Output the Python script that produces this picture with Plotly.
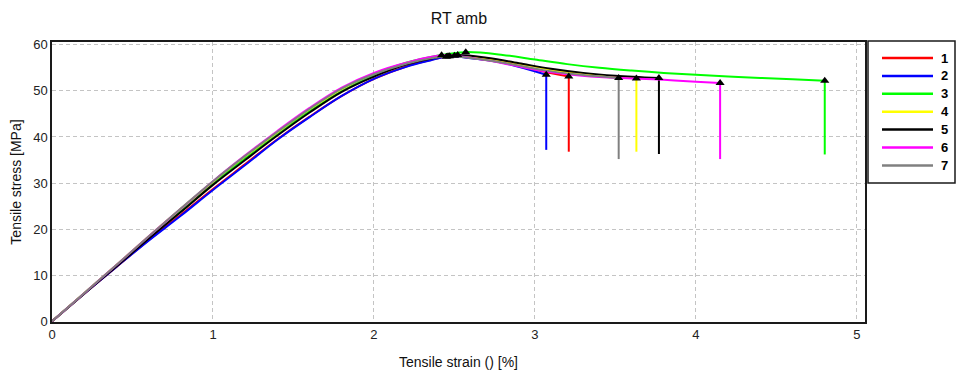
import plotly.graph_objects as go

# ---- data ----
specimens = ["1", "2", "3", "4", "5", "6", "7"]
colors = ["#ff0000", "#0000ff", "#00ff00", "#ffff00", "#000000", "#ff00ff", "#808080"]

strain_1 = [0, 0.2, 0.4, 0.6, 0.8, 1.0, 1.2, 1.4, 1.6, 1.8, 2.0, 2.2, 2.35, 2.47, 2.6, 2.8, 3.0, 3.21, 3.21]
stress_1 = [0, 6, 11.8, 17.6, 23.1, 28.7, 34.1, 39.5, 44.4, 48.9, 52.6, 55.3, 56.7, 57.5, 57.2, 56.2, 54.6, 53.1, 36.8]

strain_2 = [0, 0.2, 0.4, 0.6, 0.8, 1.0, 1.2, 1.4, 1.6, 1.8, 2.0, 2.2, 2.35, 2.45, 2.6, 2.8, 3.07, 3.07]
stress_2 = [0, 6, 11.8, 17.5, 22.9, 28.5, 33.9, 39.4, 44.3, 48.9, 52.6, 55.2, 56.6, 57.4, 57.1, 56.1, 53.5, 37.2]

strain_3 = [0, 0.2, 0.4, 0.6, 0.8, 1.0, 1.2, 1.4, 1.6, 1.8, 2.0, 2.2, 2.4, 2.57, 2.8, 3.0, 3.2, 3.4, 3.6, 3.8, 4.0, 4.2, 4.4, 4.6, 4.8, 4.8]
stress_3 = [0, 6.1, 12.1, 18.2, 24.1, 30.0, 35.4, 40.7, 45.6, 50.0, 53.5, 56.1, 57.7, 58.4, 57.8, 56.8, 55.8, 55.0, 54.4, 53.9, 53.5, 53.1, 52.8, 52.5, 52.2, 36.2]

strain_4 = [0, 0.2, 0.4, 0.6, 0.8, 1.0, 1.2, 1.4, 1.6, 1.8, 2.0, 2.2, 2.35, 2.5, 2.7, 2.9, 3.1, 3.3, 3.5, 3.63, 3.63]
stress_4 = [0, 6.1, 12.2, 18.4, 24.4, 30.3, 35.8, 41.0, 46.0, 50.4, 53.7, 56.0, 57.1, 57.6, 57.0, 55.9, 54.6, 53.6, 53.0, 52.7, 36.8]

strain_5 = [0, 0.2, 0.4, 0.6, 0.8, 1.0, 1.2, 1.4, 1.6, 1.8, 2.0, 2.2, 2.38, 2.52, 2.7, 2.9, 3.1, 3.3, 3.5, 3.77, 3.77]
stress_5 = [0, 6, 11.9, 17.9, 23.7, 29.6, 35.0, 40.3, 45.3, 49.8, 53.1, 55.7, 57.2, 57.8, 57.2, 56.0, 54.8, 53.9, 53.3, 52.8, 36.3]

strain_6 = [0, 0.2, 0.4, 0.6, 0.8, 1.0, 1.2, 1.4, 1.6, 1.8, 2.0, 2.2, 2.42, 2.6, 2.8, 3.0, 3.2, 3.4, 3.6, 3.8, 4.0, 4.15, 4.15]
stress_6 = [0, 6.1, 12.2, 18.4, 24.4, 30.4, 36.0, 41.3, 46.3, 50.7, 53.9, 56.1, 57.7, 57.2, 56.0, 54.6, 53.6, 53.0, 52.7, 52.4, 52.0, 51.7, 35.2]

strain_7 = [0, 0.2, 0.4, 0.6, 0.8, 1.0, 1.2, 1.4, 1.6, 1.8, 2.0, 2.2, 2.36, 2.46, 2.65, 2.85, 3.05, 3.25, 3.52, 3.52]
stress_7 = [0, 6.1, 12.2, 18.4, 24.5, 30.4, 35.9, 41.1, 46.1, 50.5, 53.6, 55.9, 57.1, 57.5, 56.9, 55.8, 54.5, 53.6, 52.8, 35.2]

x_ticks = [0, 1, 2, 3, 4, 5]
y_ticks = [0, 10, 20, 30, 40, 50, 60]

strains = [strain_1, strain_2, strain_3, strain_4, strain_5, strain_6, strain_7]
stresses = [stress_1, stress_2, stress_3, stress_4, stress_5, stress_6, stress_7]

FONT = "Liberation Sans, Arial, sans-serif"

fig = go.Figure()
for name, col, xs, ys in zip(specimens, colors, strains, stresses):
    # smooth stress-strain path up to break
    fig.add_trace(go.Scatter(x=xs[:-1], y=ys[:-1], mode="lines", name=name,
                             legendgroup=name, showlegend=False,
                             line=dict(color=col, width=2, shape="spline", smoothing=1.0)))
    # vertical drop at break
    fig.add_trace(go.Scatter(x=xs[-2:], y=ys[-2:], mode="lines", name=name,
                             legendgroup=name, showlegend=False,
                             line=dict(color=col, width=2)))

# markers at max stress and at break (point before final drop)
mk_x, mk_y = [], []
for xs, ys in zip(strains, stresses):
    i = max(range(len(ys)), key=lambda k: ys[k])
    mk_x += [xs[i], xs[-2]]
    mk_y += [ys[i], ys[-2]]
fig.add_trace(go.Scatter(x=mk_x, y=mk_y, mode="markers", showlegend=False,
                         marker=dict(symbol="triangle-up", size=8, color="#000000")))

axis_common = dict(showline=True, linecolor="#1a1a1a", linewidth=1.5, mirror=True,
                   showgrid=True, gridcolor="#c4c4c4", griddash="4px,3px", gridwidth=1,
                   zeroline=False, ticks="", automargin=False,
                   tickfont=dict(family=FONT, size=13, color="#222"))

# ---- legend box drawn in paper coordinates (plot area: 52..865 px, 42..322 px) ----
PW, PH, PL, PB = 813.0, 280.0, 52.0, 322.0
def px(p):
    return (p - PL) / PW
def py(q):
    return (PB - q) / PH

shapes = [dict(type="rect", xref="paper", yref="paper",
               x0=px(868), x1=px(955), y0=py(183), y1=py(41),
               line=dict(color="#1a1a1a", width=1.5), fillcolor="white", layer="above")]
annotations = []
for k, (name, col) in enumerate(zip(specimens, colors)):
    yk = 58 + 17.9 * k
    shapes.append(dict(type="line", xref="paper", yref="paper",
                       x0=px(882), x1=px(933), y0=py(yk), y1=py(yk),
                       line=dict(color=col, width=2.5), layer="above"))
    annotations.append(dict(xref="paper", yref="paper", x=px(939), y=py(yk),
                            xanchor="left", yanchor="middle", showarrow=False,
                            text="<b>" + name + "</b>",
                            font=dict(family=FONT, size=13, color="#000")))

fig.update_layout(
    width=959, height=377,
    margin=dict(l=52, r=94, t=42, b=55),
    paper_bgcolor="white", plot_bgcolor="white",
    showlegend=False,
    shapes=shapes, annotations=annotations,
    title=dict(text="RT amb", x=0.4785, xanchor="center", y=0.952, yanchor="middle",
               font=dict(family=FONT, size=16, color="#111")),
    xaxis=dict(range=[0, 5.05], tickvals=x_ticks, title=dict(text="Tensile strain () [%]",
               font=dict(family=FONT, size=14, color="#111"), standoff=16), **axis_common),
    yaxis=dict(range=[-0.15, 60.6], tickvals=y_ticks, title=dict(text="Tensile stress [MPa]",
               font=dict(family=FONT, size=14, color="#111"), standoff=8), **axis_common),
)

fig.write_html("out.html")
